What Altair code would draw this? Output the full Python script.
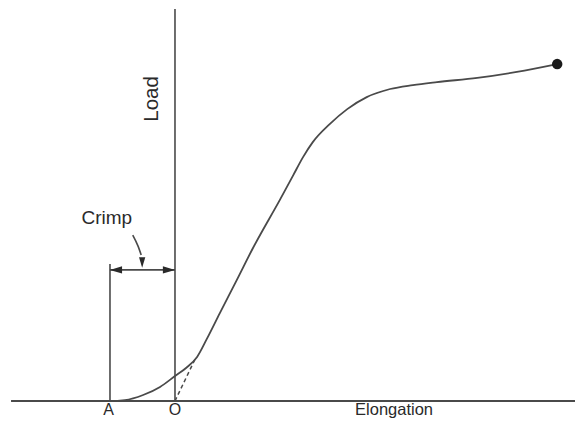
import altair as alt
import pandas as pd

# Load-elongation curve of a crimped fibre (elongation unit = crimp length A-O)
curve_e = [-2.52, -1.0, -0.77, -0.49, -0.23, 0.0, 0.17, 0.34, 0.49, 0.69, 0.95, 1.2, 1.62, 1.82, 1.97,
           2.12, 2.38, 2.65, 2.95, 3.31, 3.66, 4.03, 4.65, 5.26, 5.88]
curve_load = [0.0, 0.0, 0.03, 0.2, 0.47, 0.83, 1.1, 1.47, 2.07, 2.93, 4.03, 5.1, 6.73, 7.53, 8.13,
              8.63, 9.23, 9.73, 10.13, 10.4, 10.53, 10.63, 10.77, 10.97, 11.23]

break_e = [5.88]
break_load = [11.23]

tangent_e = [0.0, 0.31]
tangent_load = [0.0, 1.4]

axis_x_range = [-2.52, 6.23]
axis_y_top = 13.07
a_line_top = 4.57
crimp_level = 4.37
crimp_from, crimp_to = -1.0, 0.0

curl_e = [-0.65, -0.57, -0.52]
curl_load = [5.53, 5.17, 4.87]

labels = ["A", "O"]
label_e = [-1.02, 0.0]
label_load = [-0.47, -0.47]

X = alt.Scale(domain=[-2.569, 6.154])
Y = alt.Scale(domain=[-0.6, 13.1])
LINE = "#4a4a4a"
TEXT = "#2a2a2a"
FONT = "Liberation Sans"

def xe(f="e"):
    return alt.X(f"{f}:Q", scale=X, axis=None)

def yl(f="l"):
    return alt.Y(f"{f}:Q", scale=Y, axis=None)

curve = alt.Chart(pd.DataFrame({"e": curve_e, "l": curve_load, "o": range(len(curve_e))})).mark_line(
    color=LINE, strokeWidth=1.8, interpolate="monotone"
).encode(x=xe(), y=yl(), order="o:Q")

dot = alt.Chart(pd.DataFrame({"e": break_e, "l": break_load})).mark_point(
    filled=True, color="#1a1a1a", size=110, opacity=1
).encode(x=xe(), y=yl())

tangent = alt.Chart(pd.DataFrame({"e": tangent_e, "l": tangent_load})).mark_line(
    color=LINE, strokeWidth=1.5, strokeDash=[4, 3]
).encode(x=xe(), y=yl())

rules_df = pd.DataFrame({
    "e": [axis_x_range[0], 0.0, crimp_from, crimp_from],
    "e2": [axis_x_range[1], 0.0, crimp_from, crimp_to],
    "l": [0.0, 0.0, 0.0, crimp_level],
    "l2": [0.0, axis_y_top, a_line_top, crimp_level],
    "w": [2.2, 1.6, 1.6, 1.6],
})
rules = alt.Chart(rules_df).mark_rule(color=LINE).encode(
    x=xe(), x2="e2:Q", y=yl(), y2="l2:Q", strokeWidth=alt.StrokeWidth("w:Q", scale=None)
)

heads_df = pd.DataFrame({
    "e": [crimp_from + 0.092, crimp_to - 0.092],
    "l": [crimp_level, crimp_level],
    "s": ["M -1 0 L 1 -0.6 L 1 0.6 Z", "M 1 0 L -1 -0.6 L -1 0.6 Z"],
})
heads = alt.Chart(heads_df).mark_point(filled=True, color="#2a2a2a", size=150, opacity=1).encode(
    x=xe(), y=yl(), shape=alt.Shape("s:N", scale=None)
)

curl = alt.Chart(pd.DataFrame({"e": curl_e, "l": curl_load})).mark_line(
    color=LINE, strokeWidth=1.6, interpolate="monotone"
).encode(x=xe(), y=yl())
curl_head = alt.Chart(pd.DataFrame({"e": [-0.505], "l": [4.62]})).mark_point(
    filled=True, color="#2a2a2a", size=110, opacity=1, shape="M 0 1 L -0.6 -1 L 0.6 -1 Z"
).encode(x=xe(), y=yl())

bottom_text = alt.Chart(pd.DataFrame({"t": labels, "e": label_e, "l": label_load})).mark_text(
    font=FONT, fontSize=16, color=TEXT, baseline="alphabetic", align="center"
).encode(x=xe(), y=yl(), text="t:N")

elong_text = alt.Chart(pd.DataFrame({"t": ["Elongation"], "e": [3.37], "l": [-0.47]})).mark_text(
    font=FONT, fontSize=16.5, color=TEXT, baseline="alphabetic", align="center"
).encode(x=xe(), y=yl(), text="t:N")

crimp_text = alt.Chart(pd.DataFrame({"t": ["Crimp"], "e": [-1.05], "l": [6.1]})).mark_text(
    font=FONT, fontSize=19, color=TEXT, baseline="middle", align="center"
).encode(x=xe(), y=yl(), text="t:N")

load_text = alt.Chart(pd.DataFrame({"t": ["Load"], "e": [-0.35], "l": [10.07]})).mark_text(
    font=FONT, fontSize=20.5, color=TEXT, baseline="middle", align="center", angle=270
).encode(x=xe(), y=yl(), text="t:N")

chart = alt.layer(
    rules, tangent, curve, dot, heads, curl, curl_head, bottom_text, elong_text, crimp_text, load_text
).properties(
    width=567, height=411, autosize=alt.AutoSizeParams(type="none"), padding=0, background="white"
).configure_view(stroke=None)

chart.save("out.html", embed_options={"renderer": "svg", "actions": False})
